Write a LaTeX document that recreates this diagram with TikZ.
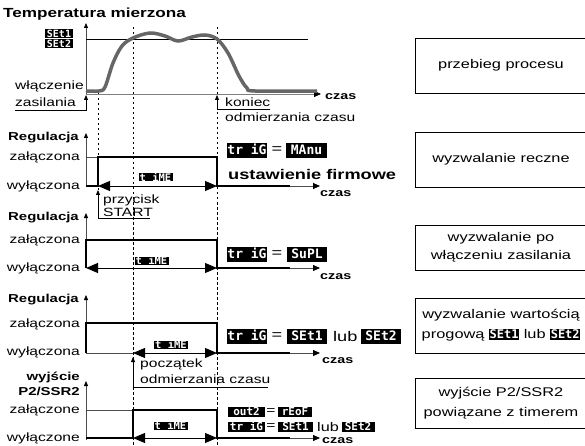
\documentclass[tikz,border=0pt]{standalone}
\usepackage{fontspec}
\setmainfont{Liberation Sans}[FakeStretch=1.3]
\setmonofont{DejaVu Sans Mono}
\usetikzlibrary{arrows.meta}
\newcommand{\wys}[1]{{\setlength{\fboxsep}{0.6pt}\colorbox{black}{\textcolor{white}{\ttfamily\bfseries\fontsize{12}{12}\selectfont #1}}}}

\begin{document}
\begin{tikzpicture}[x=1pt,y=-1pt]
\tikzset{opis/.style={inner sep=0pt, font=\fontsize{12}{14}\selectfont},
  tytul/.style={inner sep=0pt, font=\fontsize{11.5}{13}\selectfont\bfseries},
  czas/.style={inner sep=0pt, anchor=west, font=\fontsize{11}{13}\selectfont\bfseries},
  wysw/.style={fill=black, text=white, inner sep=0pt, text height=0.72em, text depth=0pt},
  wyswD/.style={wysw, minimum width=40pt, minimum height=15pt, font=\ttfamily\bfseries\fontsize{13}{13}\selectfont},
  wyswM/.style={wysw, minimum height=10pt, font=\ttfamily\bfseries\fontsize{11}{11}\selectfont},
  wyswS/.style={wysw, minimum width=34pt, minimum height=8pt, font=\ttfamily\bfseries\fontsize{10.5}{10.5}\selectfont},
  os/.style={line width=0.8pt, gray!60!black, -{Triangle[length=5pt,width=4pt,color=black]}},
  poziom/.style={line width=0.8pt, gray!60!black},
  sygnal/.style={line width=2.6pt, line join=miter},
  doczasu/.style={line width=0.8pt, gray!60!black, -{Triangle[length=7pt,width=6pt,color=black]}},
  odcinek/.style={line width=0.9pt, {Triangle[length=12pt,width=10pt]}-{Triangle[length=12pt,width=10pt]}},
  wskaz/.style={line width=0.8pt, -{Triangle[length=5pt,width=4pt]}},
  znacznik/.style={line width=1pt, dash pattern=on 2.5pt off 2.5pt},
  ramka/.style={draw, line width=0.8pt, minimum width=172pt, align=center, inner sep=0pt, font=\fontsize{12.6}{14}\selectfont}}
\useasboundingbox (0,0) rectangle (585,446);
% pionowe znaczniki czasu
\draw[znacznik] (98,93) -- (98,190);
\draw[znacznik] (133,27) -- (133,445);
\draw[znacznik] (217,27) -- (217,445);

% przebieg procesu
\node[tytul, anchor=base west, font=\fontsize{13.2}{15}\selectfont\bfseries] (T1) at (3,18) {Temperatura mierzona};
\draw[os] (86,94) -- (86,23);
\draw[line width=0.8pt] (86,39) -- (308,39);
\node[wyswS, minimum width=28pt, minimum height=9pt, font=\ttfamily\bfseries\fontsize{10}{10}\selectfont] (S1) at (59,33.5) {SEt1};
\node[wyswS, minimum width=28pt, minimum height=9pt, font=\ttfamily\bfseries\fontsize{10}{10}\selectfont] (S2) at (59,43.5) {SEt2};
\draw[poziom, gray, -{Triangle[length=7pt,width=6pt,color=black]}] (86,94) -- (321,94);
\draw[line width=3.5pt, gray!80!black] plot[smooth, tension=0.55] coordinates {(86,91) (99,91) (105,87) (113,63) (122,46) (133,38) (150,33) (165,36) (178,41) (192,37) (205,35) (217,39) (228,53) (239,76) (247,88) (255,91) (317,91)};
\node[czas] (C1) at (325,97) {czas};
\node[opis, anchor=west] (W1) at (15,86) {włączenie};
\node[opis, anchor=west] (W2) at (15,102) {zasilania};
\coordinate (W3) at (15,110);
\coordinate (W4) at (86,95);
\draw[wskaz] (W3) -| (W4);
\node[opis, anchor=west] (K1) at (225,102) {koniec};
\node[opis, anchor=west] (K2) at (225,117) {odmierzania czasu};
\coordinate (K3) at (270,109);
\coordinate (K4) at (217,95);
\draw[wskaz] (K3) -| (K4);

% wyzwalanie reczne
\node[tytul, anchor=east] (R1) at (79,138) {Regulacja};
\draw[os] (86,187) -- (86,133);
\node[opis, anchor=east] (Z1) at (80,157) {załączona};
\node[opis, anchor=east] (Y1) at (80,186) {wyłączona};
\draw[poziom] (86,157) -- (98,157);
\draw[sygnal] (86,186) -- (98,186) -- (98,157) -- (217,157) -- (217,186) -- (290,186);
\draw[doczasu] (290,186) -- (320,186);
\draw[odcinek] (98,186) -- (217,186);
\node[wyswS] (M1) at (155.5,177.5) {t iME};
\node[czas] (C2) at (320,194) {czas};
\node[opis, anchor=west] (P1) at (103,200) {przycisk};
\node[opis, anchor=west] (P2) at (103,212) {START};
\coordinate (P3) at (150,218);
\coordinate (P4) at (98,190);
\draw[wskaz] (P3) -| (P4);
\node[wyswD] (D1) at (247,150.5) {tr iG};
\node[opis, font=\fontsize{14}{14}\selectfont] (E1) at (277,150) {=};
\node[wyswD, minimum width=41pt] (D2) at (306.5,150.5) {MAnu};
\node[opis, anchor=west, font=\fontsize{14}{16}\selectfont\bfseries] (U1) at (228,174) {ustawienie firmowe};

% wyzwalanie po wlaczeniu zasilania
\node[tytul, anchor=east] (R2) at (79,218) {Regulacja};
\draw[os] (86,268) -- (86,213);
\node[opis, anchor=east] (Z2) at (80,240) {załączona};
\node[opis, anchor=east] (Y2) at (80,268) {wyłączona};
\draw[sygnal] (86,268) -- (86,240) -- (217,240) -- (217,268) -- (290,268);
\draw[doczasu] (290,268) -- (320,268);
\draw[odcinek] (86,268) -- (217,268);
\node[wyswS] (M2) at (151.5,261) {t iME};
\node[czas] (C3) at (320,277) {czas};
\node[wyswD] (D3) at (247,254.5) {tr iG};
\node[opis, font=\fontsize{14}{14}\selectfont] (E2) at (277,254) {=};
\node[wyswD] (D4) at (307,254.5) {SuPL};

% wyzwalanie wartoscia progowa
\node[tytul, anchor=east] (R3) at (79,300) {Regulacja};
\draw[os] (86,353) -- (86,295);
\node[opis, anchor=east] (Z3) at (80,324) {załączona};
\node[opis, anchor=east] (Y3) at (80,352) {wyłączona};
\draw[poziom] (86,353) -- (133,353);
\draw[sygnal] (86,353) -- (86,323) -- (217,323) -- (217,353) -- (290,353);
\draw[doczasu] (290,353) -- (320,353);
\draw[odcinek] (133,353) -- (217,353);
\node[wyswS] (M3) at (171,345) {t iME};
\node[czas] (C4) at (322,361) {czas};
\node[opis, anchor=west] (O1) at (140,364) {początek};
\node[opis, anchor=west] (O2) at (140,379) {odmierzania czasu};
\coordinate (O3) at (268,387);
\coordinate (O4) at (133,357);
\draw[wskaz] (O3) -| (O4);
\node[wyswD] (D5) at (247,336.5) {tr iG};
\node[opis, font=\fontsize{14}{14}\selectfont] (E3) at (277,336) {=};
\node[wyswD] (D6) at (307,336.5) {SEt1};
\node[opis, anchor=west, font=\fontsize{14}{16}\selectfont] (L1) at (333,336) {lub};
\node[wyswD] (D7) at (381,336.5) {SEt2};

% wyjscie P2/SSR2
\node[tytul, anchor=east] (R4) at (80,377) {wyjście};
\node[tytul, anchor=east] (R5) at (80,391) {P2/SSR2};
\draw[os] (86,440) -- (86,381);
\node[opis, anchor=east] (Z4) at (80,410) {załączone};
\node[opis, anchor=east] (Y4) at (80,438) {wyłączone};
\draw[poziom] (86,410) -- (133,410);
\draw[sygnal] (86,438) -- (133,438) -- (133,410) -- (217,410) -- (217,438) -- (290,438);
\draw[doczasu] (290,438) -- (320,438);
\draw[odcinek] (133,438) -- (217,438);
\node[wyswS] (M4) at (170.5,426) {t iME};
\node[czas] (C5) at (322,441) {czas};
\node[wyswM, minimum width=37pt] (D8) at (246.5,412) {out2};
\node[opis] (E4) at (271,411.5) {=};
\node[wyswM, minimum width=34pt] (D9) at (295,412) {rEoF};
\node[wyswM, minimum width=37pt] (D10) at (246.5,427) {tr iG};
\node[opis] (E5) at (271,426.5) {=};
\node[wyswM, minimum width=35pt] (D11) at (295.5,427) {SEt1};
\node[opis, anchor=west, font=\fontsize{12.5}{14}\selectfont] (L2) at (317,427) {lub};
\node[wyswM, minimum width=33pt] (D12) at (358,427) {SEt2};

% opisy po prawej
\node[ramka, minimum height=55pt] (B1) at (501,65.5) {przebieg procesu};
\node[ramka, minimum height=55pt] (B2) at (501,159.5) {wyzwalanie reczne};
\node[ramka, minimum height=45pt] (B3) at (501,247.5) {wyzwalanie po\\[4pt]włączeniu zasilania};
\node[ramka, minimum height=55pt] (B4) at (501,325.5) {wyzwalanie wartością\\[6pt]progową \wys{SEt1} lub \wys{SEt2}};
\node[ramka, minimum height=50pt] (B5) at (501,403) {wyjście P2/SSR2\\[6pt]powiązane z timerem};
\end{tikzpicture}
\end{document}
